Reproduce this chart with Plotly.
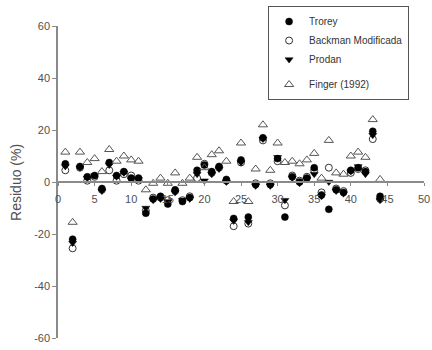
import plotly.graph_objects as go

x_vals = list(range(1, 45))

trorey = [7, -22, 6, 2, 2.5, -2.5, 7.5, 2.5, 4, 1.5,
          1.5, -12, -6.5, -5.5, -8.5, -3, -7.5, -6, 4.5, 6.5,
          4, 6, 1, -14, 8.5, -13.5, -1, 17, -1, 9,
          -13.5, 2, 0, 1.5, 5.5, -5, -10.5, -3, -4, 4.5,
          5.5, 4, 19.5, -5.5]
backman = [4.5, -25.5, 5.5, 0.5, 2, -3, 4.5, 0.5, 3, 2.5,
           0.5, -11, -6, -6, -7, -3.5, -7, -5.5, 1.5, 7,
           3.5, 5.5, 0.5, -17, 7.5, -16, -0.5, 16, -0.5, 8,
           -9, 2.5, 0.5, 2, 4.5, -4, 5.5, -2.5, -3.5, 3.5,
           5, 4.5, 16.5, -6.5]
prodan = [6, -23.5, 5.5, 1.5, 2.5, -3.5, 6.5, 2, 3.5, 1,
          1, -10, -7, -6.5, -7.5, -4, -7, -6.5, 3, 0.5,
          3, 5, 0, -15, 7.5, -15.5, -1.5, 16.5, -1.5, 9.5,
          -7, 1.5, -0.5, 1, 3, -5.5, 0, -3.5, -4.5, 4,
          6, 3, 18, -7]
finger = [11.5, -15.5, 11.5, 7.5, 9, 4, 12.5, 8, 10, 8.5,
          8, -3, -0.5, 1.5, -0.5, 3.5, -0.5, 1.5, 9.5, 5.5,
          10.5, 12, 8, -7.5, 15, -7.5, 5, 22, 4.5, 15,
          7.5, 8, 7, 8.5, 11, 1.5, 16, 3.5, 3, 10,
          11.5, 9.5, 24, 1]

series_names = ["Trorey", "Backman Modificada", "Prodan", "Finger (1992)"]
x_ticks = [0, 5, 10, 15, 20, 25, 30, 35, 40, 45, 50]
y_ticks = [-60, -40, -20, 0, 20, 40, 60]

FONT = "Liberation Sans, Arial, sans-serif"
GRAY = "#505050"
AX = "#8a8a8a"

fig = go.Figure()

fig.add_trace(go.Scatter(
    x=x_vals, y=backman, mode="markers", name=series_names[1],
    legendrank=2, legendgroup="a",
    marker=dict(symbol="circle", size=7, color="white",
                line=dict(color="#333333", width=1)),
))
fig.add_trace(go.Scatter(
    x=x_vals, y=trorey, mode="markers", name=series_names[0],
    legendrank=1, legendgroup="a",
    marker=dict(symbol="circle", size=7, color="black",
                line=dict(color="black", width=0.5)),
))
fig.add_trace(go.Scatter(
    x=x_vals, y=prodan, mode="markers", name=series_names[2],
    legendrank=3, legendgroup="a",
    marker=dict(symbol="triangle-down", size=7, color="black",
                line=dict(color="black", width=0.5)),
))
fig.add_trace(go.Scatter(
    x=x_vals, y=finger, mode="markers", name=series_names[3],
    legendrank=4, legendgroup="b",
    marker=dict(symbol="triangle-up-open", size=8, color="#555555",
                line=dict(color="#555555", width=1)),
))

fig.update_layout(
    width=432, height=350,
    margin=dict(l=58, r=8, t=26, b=12, autoexpand=False),
    paper_bgcolor="white", plot_bgcolor="white",
    font=dict(family=FONT, size=11, color=GRAY),
    showlegend=True,
    legend=dict(
        x=0.574, y=1.064, xanchor="left", yanchor="top",
        bordercolor="#555555", borderwidth=1, bgcolor="white",
        traceorder="grouped", tracegroupgap=6,
        font=dict(family=FONT, size=10, color="#333333"),
    ),
    xaxis=dict(
        range=[0, 50], tickvals=x_ticks, ticktext=[str(v) for v in x_ticks],
        showline=True, linecolor=AX, linewidth=1.5,
        ticks="outside", ticklen=3, tickcolor=AX, tickwidth=1,
        showgrid=False, zeroline=False,
        anchor="free", position=0.5,
        ticklabelstandoff=4,
        tickfont=dict(family=FONT, size=11, color=GRAY),
    ),
    yaxis=dict(
        range=[-60, 60], tickvals=y_ticks, ticktext=[str(v) for v in y_ticks],
        showline=True, linecolor=AX, linewidth=1.5,
        ticks="outside", ticklen=4, tickcolor=AX, tickwidth=1,
        showgrid=False, zeroline=False,
        tickfont=dict(family=FONT, size=11, color=GRAY),
    ),
    annotations=[dict(
        text="Residuo (%)", xref="paper", yref="paper",
        x=-0.115, y=0.50, xanchor="center", yanchor="middle",
        textangle=-90, showarrow=False,
        font=dict(family=FONT, size=14, color=GRAY),
    )],
)

fig.write_html("out.html")
